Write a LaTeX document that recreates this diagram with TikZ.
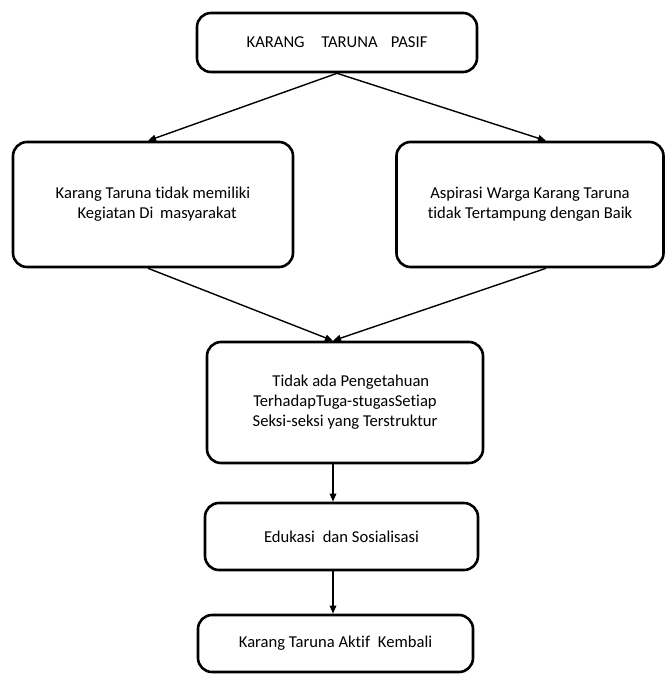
\documentclass[tikz,border=0pt]{standalone}
\usepackage{fontspec}
\setmainfont[RawFeature={-liga}]{Carlito}
\usetikzlibrary{calc,arrows.meta}
\begin{document}
\begin{tikzpicture}[x=1pt,y=-1pt,
  box/.style={draw,line width=2.6pt,rounded corners=14pt,align=center,inner sep=0pt,
    font=\fontsize{16.6}{20}\selectfont},
  arr/.style={line width=1.4pt,-{Triangle[length=8pt,width=6.5pt]}}]
\useasboundingbox (0,0) rectangle (666,675);
\node[box,minimum width=280pt,minimum height=59pt] (top) at (337,42.5) {KARANG\hspace{1em}TARUNA\hspace{0.8em}PASIF};
\node[box,minimum width=280pt,minimum height=125pt] (left) at (153,204.5) {Karang Taruna tidak memiliki\\\hspace{0.5em}Kegiatan Di\hspace{0.4em}masyarakat};
\node[box,minimum width=267pt,minimum height=125pt] (right) at (530,204.5) {Aspirasi\hspace{0.25em}Warga Karang Taruna\\tidak Tertampung dengan Baik};
\node[box,minimum width=276pt,minimum height=121pt] (mid) at (345,402.5) {\hspace{0.7em}Tidak ada Pengetahuan\\TerhadapTuga-stugasSetiap\\Seksi-seksi yang Terstruktur};
\node[box,minimum width=273pt,minimum height=67pt] (edu) at (341.5,536.5) {Edukasi\hspace{0.25em} dan Sosialisasi};
\node[box,minimum width=275pt,minimum height=57pt] (end) at (335.5,643.5) {Karang Taruna Aktif\hspace{0.25em} Kembali};
\coordinate (ts) at ($(top.south)+(0,0)$);
\coordinate (ln) at ($(left.north)+(-5,0)$);
\coordinate (rn) at ($(right.north)+(16,0)$);
\coordinate (ls) at ($(left.south)+(-5,0)$);
\coordinate (rs) at ($(right.south)+(16,0)$);
\coordinate (mn) at ($(mid.north)+(-12,0)$);
\coordinate (ms) at ($(mid.south)+(-12,0)$);
\coordinate (en) at ($(edu.north)+(-8.5,0)$);
\coordinate (es) at ($(edu.south)+(-8.5,0)$);
\coordinate (fn) at ($(end.north)+(-2.5,0)$);
\draw[arr] (ts) -- (ln);
\draw[arr] (ts) -- (rn);
\draw[arr] (ls) -- (mn);
\draw[arr] (rs) -- (mn);
\draw[arr] (ms) -- (en);
\draw[arr] (es) -- (fn);
\end{tikzpicture}
\end{document}
